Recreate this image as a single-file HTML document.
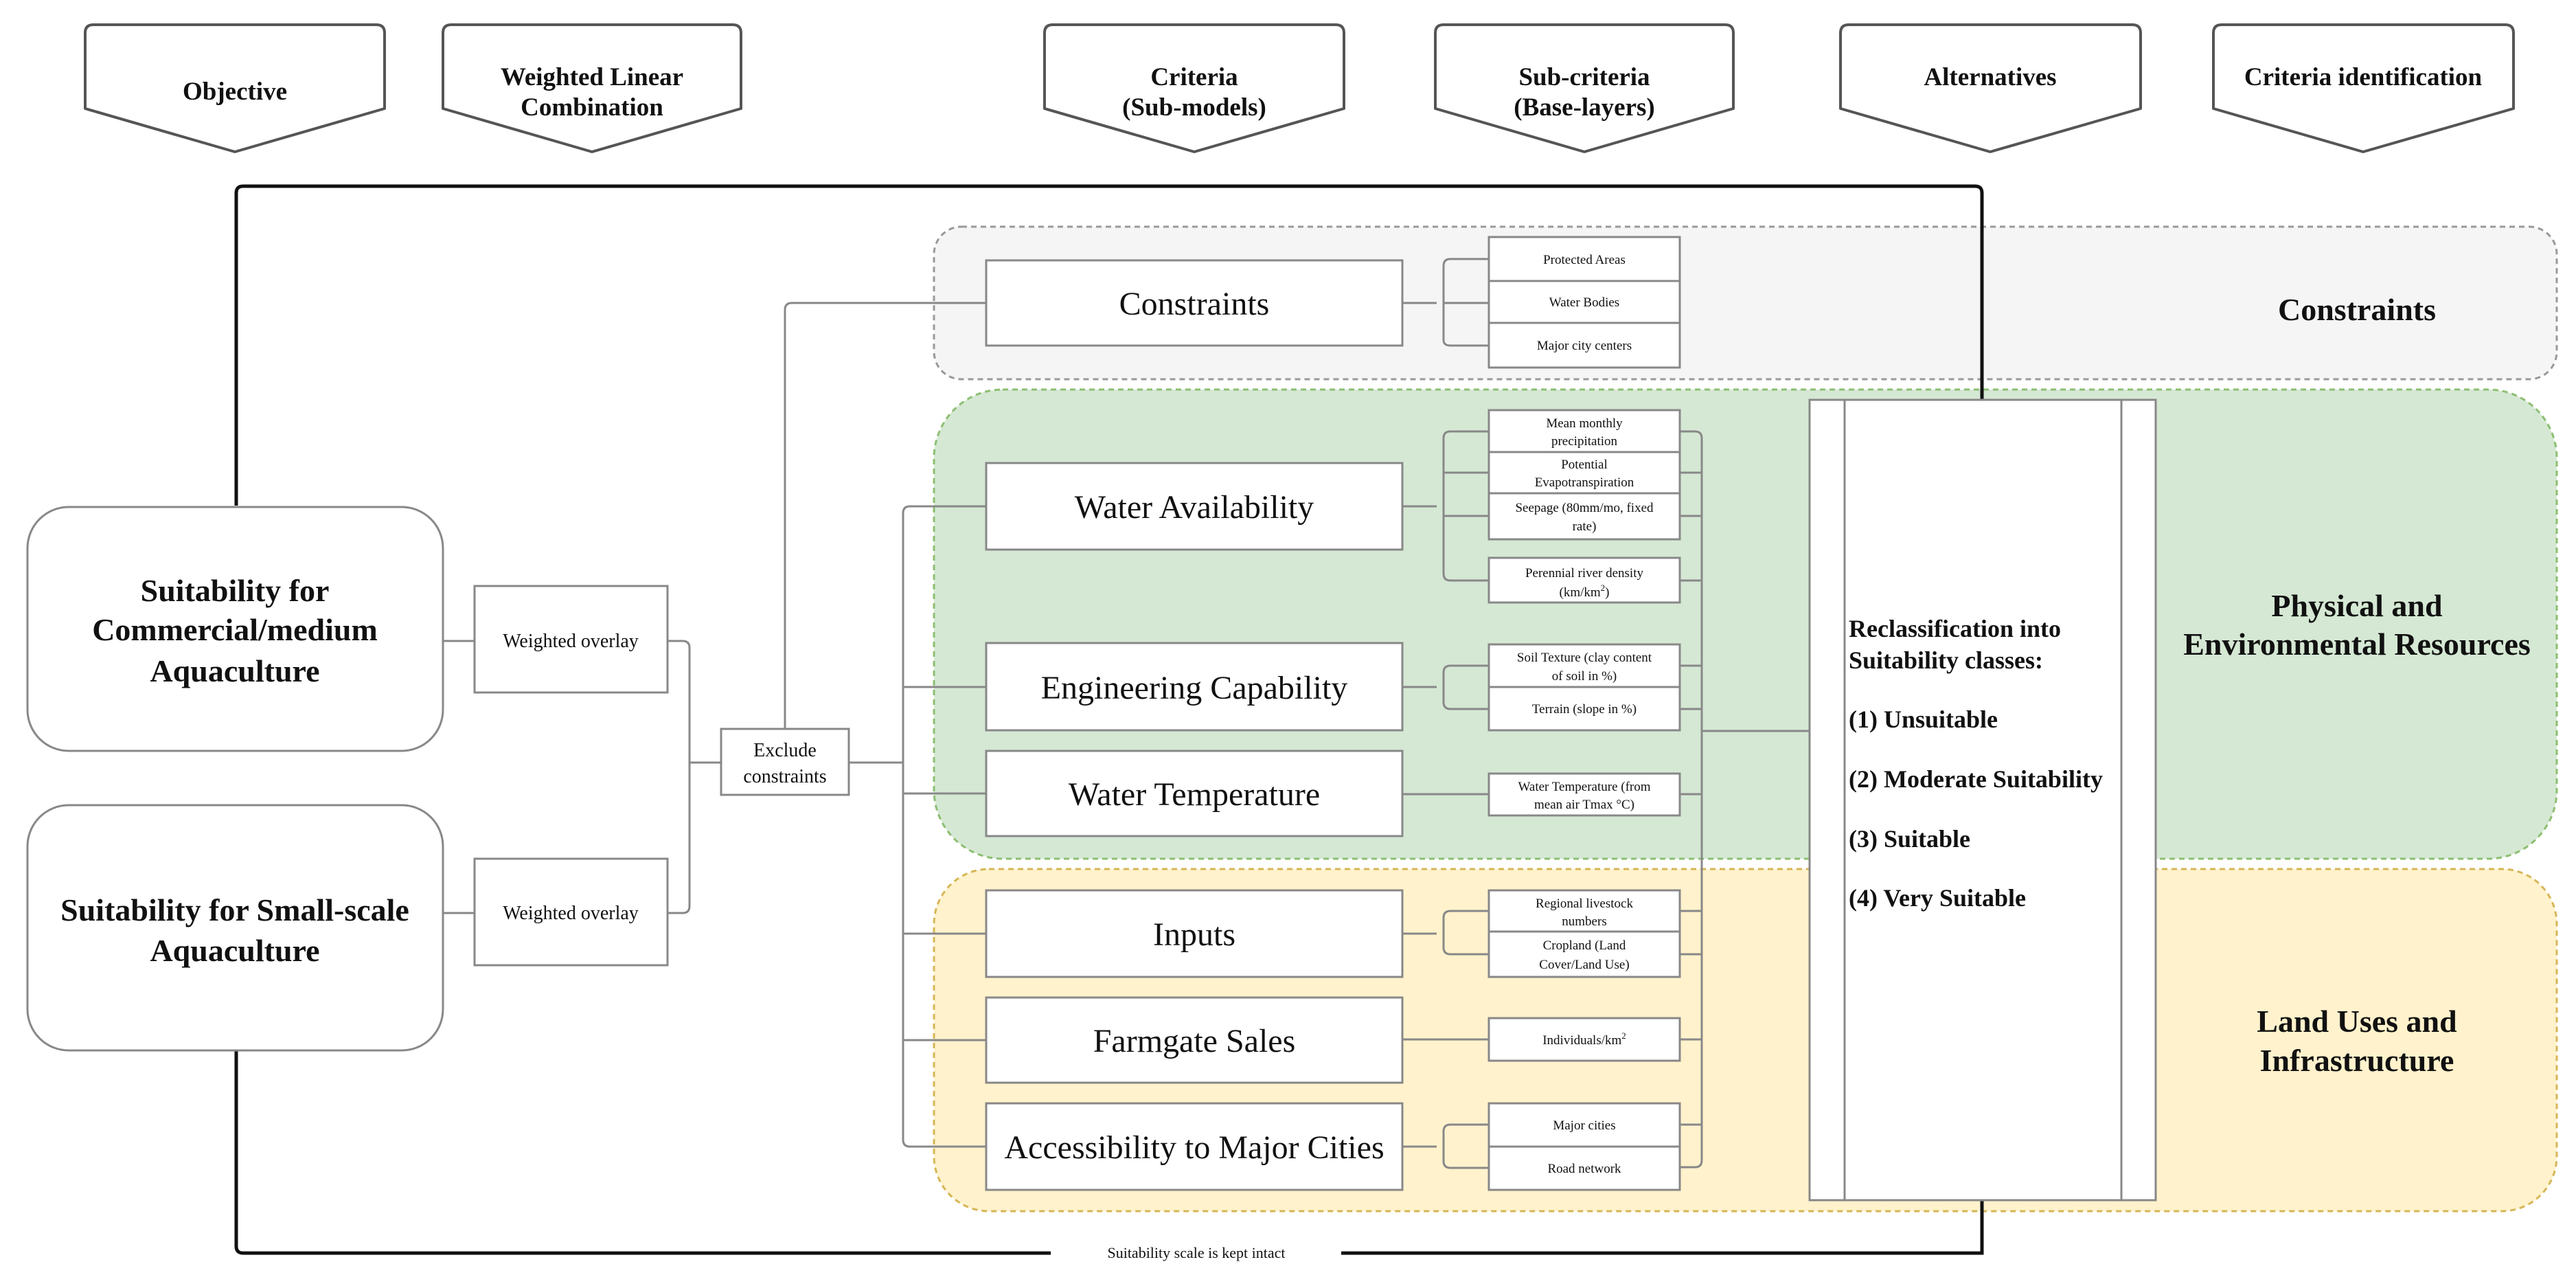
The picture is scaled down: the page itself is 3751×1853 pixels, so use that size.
<!DOCTYPE html>
<html><head><meta charset="utf-8"><style>
html,body{margin:0;padding:0;background:#fff}
svg{display:block}
text{font-family:"Liberation Serif",serif;fill:#111}
.b{font-weight:bold}
</style></head><body>
<svg width="3751" height="1853" viewBox="0 0 3751 1853" xmlns="http://www.w3.org/2000/svg">
<!-- headers -->
<g fill="#fff" stroke="#555" stroke-width="4" stroke-linejoin="round">
<path d="M136,36 H548 Q560,36 560,48 V158 L342,221 L124,158 V48 Q124,36 136,36 Z"/>
<path d="M657,36 H1067 Q1079,36 1079,48 V158 L862,221 L645,158 V48 Q645,36 657,36 Z"/>
<path d="M1533,36 H1945 Q1957,36 1957,48 V158 L1739,221 L1521,158 V48 Q1521,36 1533,36 Z"/>
<path d="M2102,36 H2512 Q2524,36 2524,48 V158 L2307,221 L2090,158 V48 Q2090,36 2102,36 Z"/>
<path d="M2692,36 H3105 Q3117,36 3117,48 V158 L2898,221 L2680,158 V48 Q2680,36 2692,36 Z"/>
<path d="M3235,36 H3648 Q3660,36 3660,48 V158 L3441,221 L3223,158 V48 Q3223,36 3235,36 Z"/>
</g>
<g class="b" font-size="37" text-anchor="middle">
<text x="342" y="145">Objective</text>
<text x="862" y="124">Weighted Linear</text><text x="862" y="168">Combination</text>
<text x="1739" y="124">Criteria</text><text x="1739" y="168">(Sub-models)</text>
<text x="2307" y="124">Sub-criteria</text><text x="2307" y="168">(Base-layers)</text>
<text x="2898" y="124">Alternatives</text>
<text x="3441" y="124">Criteria identification</text>
</g>
<!-- groups -->
<rect x="1360" y="330" width="2363" height="222" rx="40" fill="#f5f5f5" stroke="#999" stroke-width="3" stroke-dasharray="8,6"/>
<rect x="1360" y="567" width="2363" height="683" rx="100" fill="#d5e8d4" stroke="#8cbf72" stroke-width="3" stroke-dasharray="8,6"/>
<rect x="1360" y="1265" width="2363" height="498" rx="80" fill="#fff2cc" stroke="#d6b656" stroke-width="3" stroke-dasharray="8,6"/>
<g class="b" font-size="46" text-anchor="middle">
<text x="3432" y="466">Constraints</text>
<text x="3432" y="897">Physical and</text><text x="3432" y="953">Environmental Resources</text>
<text x="3432" y="1502">Land Uses and</text><text x="3432" y="1559">Infrastructure</text>
</g>
<!-- black loop -->
<path d="M344,736 V281 Q344,271 354,271 H2876 Q2886,271 2886,281 V582" fill="none" stroke="#111" stroke-width="5"/>
<path d="M344,1529 V1814 Q344,1824 354,1824 H1530 M1953,1824 H2886 V1747" fill="none" stroke="#111" stroke-width="5"/>
<text x="1742" y="1831" font-size="22" text-anchor="middle">Suitability scale is kept intact</text>
<!-- connectors -->
<g fill="none" stroke="#888" stroke-width="3">
<path d="M645,933 H691 M645,1329 H691"/>
<path d="M972,933 H994 Q1004,933 1004,943 V1319 Q1004,1329 994,1329 H972 M1004,1110 H1050"/>
<path d="M1143,1061 V451 Q1143,441 1153,441 H1436"/>
<path d="M1236,1110 H1315 M1436,737 H1325 Q1315,737 1315,747 V1659 Q1315,1669 1325,1669 H1436 M1315,1000 H1436 M1315,1155 H1436 M1315,1359 H1436 M1315,1514 H1436"/>
<path d="M2042,441 H2092 M2168,377 H2112 Q2102,377 2102,387 V495 Q2102,503 2112,503 H2168 M2102,441 H2168"/>
<path d="M2042,737 H2092 M2168,628 H2112 Q2102,628 2102,638 V835 Q2102,845 2112,845 H2168 M2102,688 H2168 M2102,751 H2168"/>
<path d="M2042,1000 H2092 M2168,969 H2112 Q2102,969 2102,979 V1022 Q2102,1032 2112,1032 H2168"/>
<path d="M2042,1156 H2168"/>
<path d="M2042,1359 H2092 M2168,1326 H2112 Q2102,1326 2102,1336 V1379 Q2102,1389 2112,1389 H2168"/>
<path d="M2042,1513 H2168"/>
<path d="M2042,1669 H2092 M2168,1637 H2112 Q2102,1637 2102,1647 V1690 Q2102,1700 2112,1700 H2168"/>
<path d="M2446,628 H2468 Q2478,628 2478,638 V1689 Q2478,1699 2468,1699 H2446 M2446,688 H2478 M2446,751 H2478 M2446,845 H2478 M2446,969 H2478 M2446,1032 H2478 M2446,1156 H2478 M2446,1326 H2478 M2446,1389 H2478 M2446,1513 H2478 M2446,1637 H2478 M2478,1064 H2635"/>
</g>
<g fill="#fff" stroke="#888" stroke-width="3">
<rect x="40" y="738" width="605" height="355" rx="60"/>
<rect x="40" y="1172" width="605" height="357" rx="60"/>
<rect x="691" y="853" width="281" height="155"/>
<rect x="691" y="1250" width="281" height="155"/>
<rect x="1050" y="1061" width="186" height="96"/>
<rect x="1436" y="379" width="606" height="124"/>
<rect x="1436" y="674" width="606" height="126"/>
<rect x="1436" y="936" width="606" height="127"/>
<rect x="1436" y="1093" width="606" height="124"/>
<rect x="1436" y="1296" width="606" height="126"/>
<rect x="1436" y="1452" width="606" height="124"/>
<rect x="1436" y="1606" width="606" height="126"/>
<rect x="2168" y="345" width="278" height="64"/>
<rect x="2168" y="409" width="278" height="61"/>
<rect x="2168" y="470" width="278" height="65"/>
<rect x="2168" y="597" width="278" height="61"/>
<rect x="2168" y="658" width="278" height="60"/>
<rect x="2168" y="718" width="278" height="67"/>
<rect x="2168" y="812" width="278" height="65"/>
<rect x="2168" y="938" width="278" height="62"/>
<rect x="2168" y="1000" width="278" height="63"/>
<rect x="2168" y="1126" width="278" height="61"/>
<rect x="2168" y="1296" width="278" height="60"/>
<rect x="2168" y="1356" width="278" height="66"/>
<rect x="2168" y="1482" width="278" height="62"/>
<rect x="2168" y="1606" width="278" height="63"/>
<rect x="2168" y="1669" width="278" height="63"/>
<rect x="2635" y="582" width="504" height="1165"/>
<path d="M2686,582 V1747 M3089,582 V1747"/>
</g>
<g class="b" font-size="46" text-anchor="middle">
<text x="342" y="875">Suitability for</text><text x="342" y="932">Commercial/medium</text><text x="342" y="992">Aquaculture</text>
<text x="342" y="1340">Suitability for Small-scale</text><text x="342" y="1399">Aquaculture</text>
</g>
<g font-size="28" text-anchor="middle">
<text x="831" y="942">Weighted overlay</text>
<text x="831" y="1338">Weighted overlay</text>
<text x="1143" y="1101">Exclude</text><text x="1143" y="1139">constraints</text>
</g>
<g font-size="48" text-anchor="middle">
<text x="1739" y="458">Constraints</text>
<text x="1739" y="754">Water Availability</text>
<text x="1739" y="1017">Engineering Capability</text>
<text x="1739" y="1172">Water Temperature</text>
<text x="1739" y="1376">Inputs</text>
<text x="1739" y="1531">Farmgate Sales</text>
<text x="1739" y="1686">Accessibility to Major Cities</text>
</g>
<g font-size="19" text-anchor="middle">
<text x="2307" y="384">Protected Areas</text>
<text x="2307" y="446">Water Bodies</text>
<text x="2307" y="509">Major city centers</text>
<text x="2307" y="622">Mean monthly</text><text x="2307" y="648">precipitation</text>
<text x="2307" y="682">Potential</text><text x="2307" y="708">Evapotranspiration</text>
<text x="2307" y="745">Seepage (80mm/mo, fixed</text><text x="2307" y="772">rate)</text>
<text x="2307" y="840">Perennial river density</text><text x="2307" y="868">(km/km<tspan font-size="13" dy="-8">2</tspan><tspan dy="8">)</tspan></text>
<text x="2307" y="963">Soil Texture (clay content</text><text x="2307" y="990">of soil in %)</text>
<text x="2307" y="1038">Terrain (slope in %)</text>
<text x="2307" y="1151">Water Temperature (from</text><text x="2307" y="1177">mean air Tmax °C)</text>
<text x="2307" y="1321">Regional livestock</text><text x="2307" y="1347">numbers</text>
<text x="2307" y="1382">Cropland (Land</text><text x="2307" y="1410">Cover/Land Use)</text>
<text x="2307" y="1520">Individuals/km<tspan font-size="13" dy="-8">2</tspan></text>
<text x="2307" y="1644">Major cities</text>
<text x="2307" y="1707">Road network</text>
</g>
<g class="b" font-size="36">
<text x="2692" y="927">Reclassification into</text>
<text x="2692" y="973">Suitability classes:</text>
<text x="2692" y="1059">(1) Unsuitable</text>
<text x="2692" y="1146">(2) Moderate Suitability</text>
<text x="2692" y="1233">(3) Suitable</text>
<text x="2692" y="1319">(4) Very Suitable</text>
</g>
</svg>
</body></html>
